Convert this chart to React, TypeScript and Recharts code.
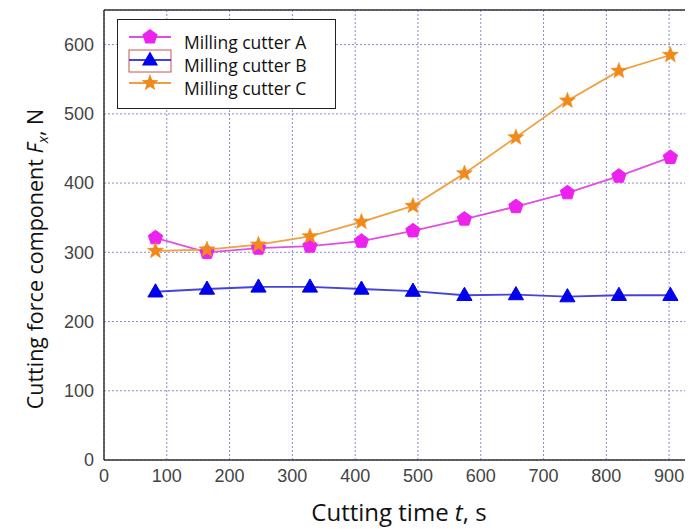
import React from "react";
import {
  LineChart,
  Line,
  XAxis,
  YAxis,
  CartesianGrid,
  ReferenceLine,
} from "recharts";

const times = [82, 164, 246, 328, 410, 492, 574, 656, 738, 820, 902];
const cutterA = [321, 300, 306, 309, 316, 331, 348, 366, 386, 410, 437];
const cutterB = [243, 247, 250, 250, 247, 244, 238, 239, 236, 238, 238];
const cutterC = [302, 304, 311, 323, 344, 367, 414, 466, 519, 562, 585];
const xTicks = [0, 100, 200, 300, 400, 500, 600, 700, 800, 900];
const yTicks = [0, 100, 200, 300, 400, 500, 600];
const seriesNames = ["Milling cutter A", "Milling cutter B", "Milling cutter C"];

const data = times.map((t, i) => ({
  t,
  a: cutterA[i],
  b: cutterB[i],
  c: cutterC[i],
}));

const COL_A = "#ee22ee";
const COL_A_LINE = "#e050e0";
const COL_B = "#0000ee";
const COL_B_LINE = "#4444dd";
const COL_C = "#f08a1c";
const COL_C_LINE = "#f0a040";

function polyPoints(cx: number, cy: number, pts: [number, number][]) {
  return pts.map(([x, y]) => `${cx + x},${cy + y}`).join(" ");
}

function pentagon(cx: number, cy: number, r: number) {
  const pts: [number, number][] = [];
  for (let k = 0; k < 5; k++) {
    const a = ((-90 + k * 72) * Math.PI) / 180;
    pts.push([r * Math.cos(a), r * Math.sin(a)]);
  }
  return polyPoints(cx, cy, pts);
}

function star(cx: number, cy: number, ro: number, ri: number) {
  const pts: [number, number][] = [];
  for (let k = 0; k < 10; k++) {
    const r = k % 2 === 0 ? ro : ri;
    const a = ((-90 + k * 36) * Math.PI) / 180;
    pts.push([r * Math.cos(a), r * Math.sin(a)]);
  }
  return polyPoints(cx, cy, pts);
}

function triangle(cx: number, cy: number, s: number) {
  const pts: [number, number][] = [
    [0, -s],
    [s * 0.95, s * 0.65],
    [-s * 0.95, s * 0.65],
  ];
  return polyPoints(cx, cy, pts);
}

const PentDot = (props: any) => {
  const { cx, cy, index } = props;
  if (cx == null || cy == null) return <g key={`pa${index}`} />;
  return <polygon key={`pa${index}`} points={pentagon(cx, cy, 7.5)} fill={COL_A} stroke={COL_A} />;
};
const TriDot = (props: any) => {
  const { cx, cy, index } = props;
  if (cx == null || cy == null) return <g key={`pb${index}`} />;
  return <polygon key={`pb${index}`} points={triangle(cx, cy, 8)} fill={COL_B} stroke={COL_B} />;
};
const StarDot = (props: any) => {
  const { cx, cy, index } = props;
  if (cx == null || cy == null) return <g key={`pc${index}`} />;
  return <polygon key={`pc${index}`} points={star(cx, cy, 8.5, 3.6)} fill={COL_C} stroke={COL_C} strokeWidth={0.5} />;
};

const LegendBox = () => {
  const lineY = [18, 41, 64];
  const textY = [23, 46, 69];
  return (
    <div
      style={{
        position: "absolute",
        left: 109,
        top: 11,
        width: 219,
        height: 90,
        border: "1.5px solid #222",
        background: "#fff",
        boxSizing: "border-box",
      }}
    >
      <svg width={62} height={90} style={{ position: "absolute", left: -1.5, top: -1.5 }}>
        <line x1={12} x2={54} y1={lineY[0]} y2={lineY[0]} stroke={COL_A_LINE} strokeWidth={2} />
        <polygon points={pentagon(33, lineY[0], 8)} fill={COL_A} />
        <rect x={12} y={31} width={42} height={22} fill="none" stroke="#d05050" strokeWidth={1} />
        <line x1={12} x2={54} y1={lineY[1]} y2={lineY[1]} stroke={COL_B_LINE} strokeWidth={2} />
        <polygon points={triangle(33, lineY[1], 8.5)} fill={COL_B} />
        <line x1={12} x2={54} y1={lineY[2]} y2={lineY[2]} stroke={COL_C_LINE} strokeWidth={2} />
        <polygon points={star(33, lineY[2], 9, 3.8)} fill={COL_C} />
      </svg>
      {seriesNames.map((n, i) => (
        <div
          key={n}
          style={{
            position: "absolute",
            left: 66,
            top: textY[i] - 13.5,
            fontFamily: "'Open Sans', sans-serif",
            fontSize: 17.5,
            lineHeight: "24px",
            color: "#111",
            whiteSpace: "nowrap",
          }}
        >
          {n}
        </div>
      ))}
    </div>
  );
};

const YTitle = () => (
  <text
    x={0}
    y={0}
    transform="translate(35 251) rotate(-90)"
    textAnchor="middle"
    fontFamily="'Open Sans', sans-serif"
    fontSize={21.5}
    fill="#111"
  >
    Cutting force component{" "}
    <tspan fontStyle="italic">F</tspan>
    <tspan fontStyle="italic" fontSize={15} dy={5}>x</tspan>
    <tspan dy={-5}>, N</tspan>
  </text>
);

const XTitle = () => (
  <text
    x={391}
    y={513}
    textAnchor="middle"
    fontFamily="'Open Sans', sans-serif"
    fontSize={24}
    fill="#111"
  >
    Cutting time <tspan fontStyle="italic">t</tspan>, s
  </text>
);

export default function App() {
  return (
    <div style={{ width: 685, height: 521, position: "relative", overflow: "hidden" }}>
      <LineChart
        width={685}
        height={521}
        data={data}
        margin={{ top: 2, right: 0, left: 0, bottom: 0 }}
      >
        <CartesianGrid
          stroke="#8a8ad0"
          strokeDasharray="2 2"
          strokeWidth={1}
        />
        <XAxis
          dataKey="t"
          type="number"
          domain={[0, 938]}
          ticks={xTicks}
          height={69}
          axisLine={{ stroke: "#333", strokeWidth: 1.5 }}
          tickLine={false}
          tickSize={7}
          tick={{ fill: "#444", fontSize: 18, fontFamily: "'Liberation Sans', Arial, sans-serif" }}
          interval={0}
        />
        <YAxis
          type="number"
          domain={[0, 650]}
          ticks={yTicks}
          width={96}
          axisLine={{ stroke: "#333", strokeWidth: 1.5 }}
          tickLine={false}
          tickSize={8}
          tick={{ fill: "#444", fontSize: 18, fontFamily: "'Liberation Sans', Arial, sans-serif" }}
          interval={0}
        />
        <ReferenceLine y={650} stroke="#333" strokeWidth={1.5} ifOverflow="visible" />
        <Line
          dataKey="a"
          stroke={COL_A_LINE}
          strokeWidth={1.8}
          dot={PentDot}
          isAnimationActive={false}
        />
        <Line
          dataKey="b"
          stroke={COL_B_LINE}
          strokeWidth={1.8}
          dot={TriDot}
          isAnimationActive={false}
        />
        <Line
          dataKey="c"
          stroke={COL_C_LINE}
          strokeWidth={1.8}
          dot={StarDot}
          isAnimationActive={false}
        />
      </LineChart>
      <svg
        width={685}
        height={521}
        style={{ position: "absolute", left: 0, top: 0, pointerEvents: "none" }}
      >
        <XTitle />
        <YTitle />
      </svg>
      <LegendBox />
    </div>
  );
}
